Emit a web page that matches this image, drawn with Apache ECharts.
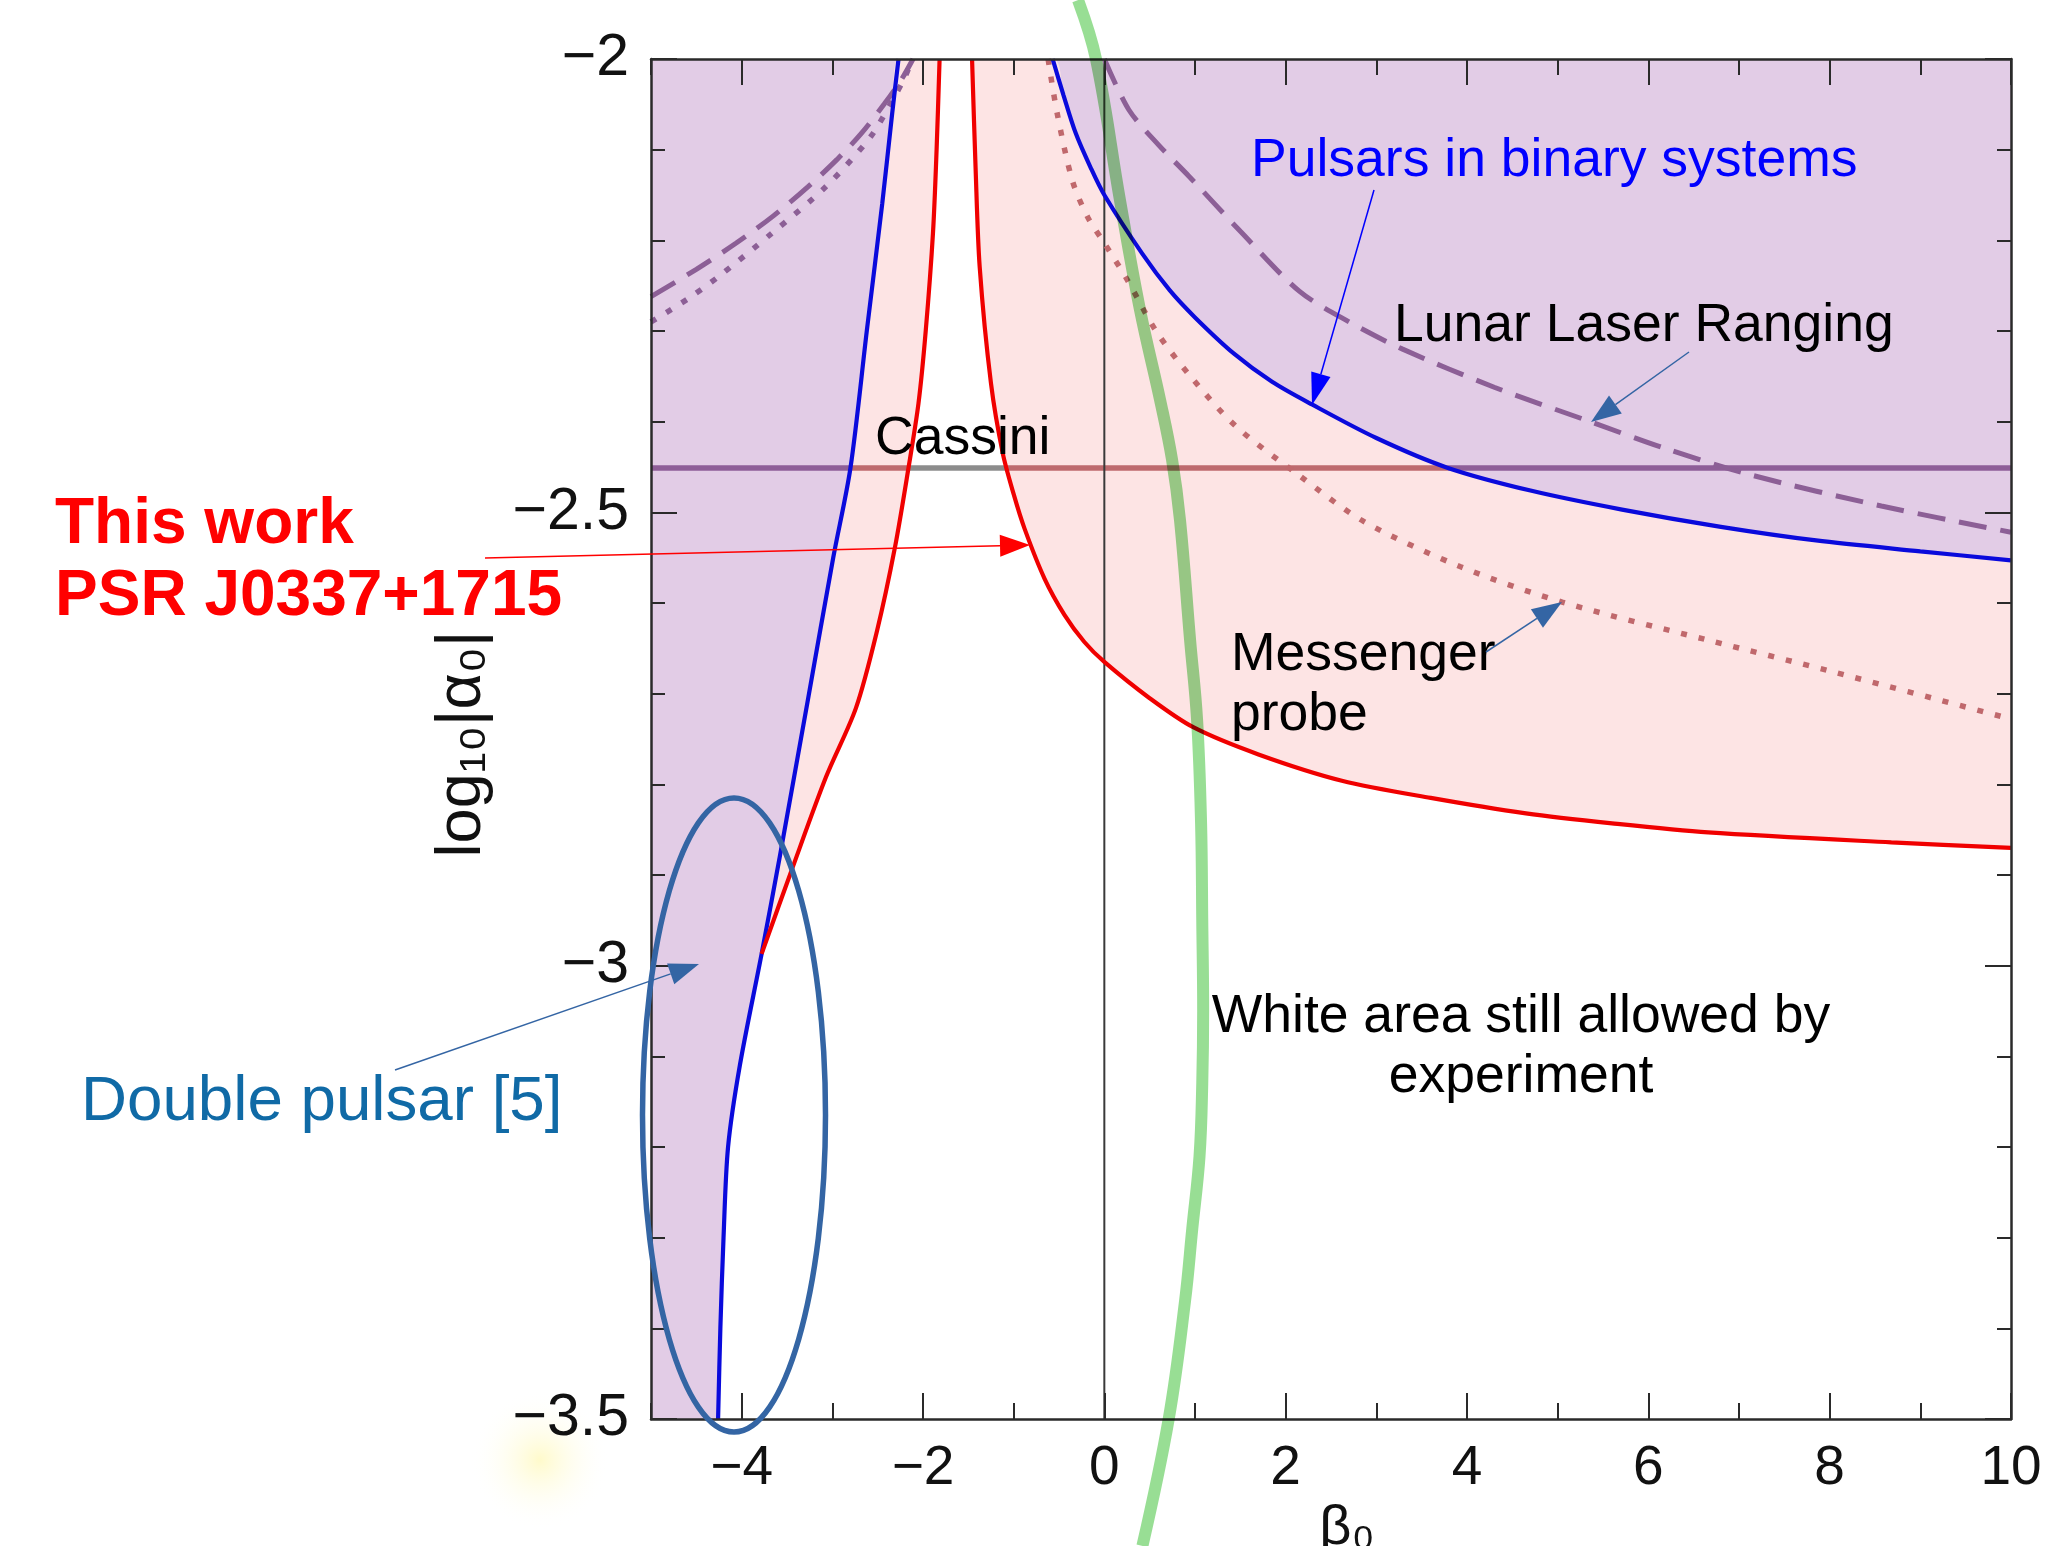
<!DOCTYPE html>
<html>
<head>
<meta charset="utf-8">
<title>alpha0 / beta0 constraints</title>
<script src="https://cdn.jsdelivr.net/npm/echarts@6/dist/echarts.min.js"></script>
<style>
  html, body { margin: 0; padding: 0; background: #fff; }
  #chart { width: 2054px; height: 1546px; }
</style>
</head>
<body>
<div id="chart"></div>
<script>
// β0 (x) against log10|α0| (y), boundaries

const betaLabels = [-4, -2, 0, 2, 4, 6, 8, 10];

// pulsars in binary systems (blue)
const pulsarLeft = [
  [-4.26, -3.50], [-4.235, -3.40], [-4.20, -3.30], [-4.15, -3.20], [-4.02, -3.11],
  [-3.78, -2.987], [-3.58, -2.88], [-3.27, -2.707], [-2.99, -2.55], [-2.80, -2.451],
  [-2.62, -2.30], [-2.45, -2.16], [-2.34, -2.06], [-2.27, -2.00]
];
const pulsarRight = [
  [-0.57, -2.00], [-0.45, -2.04], [-0.315, -2.082], [-0.15, -2.12], [0.0, -2.15],
  [0.42, -2.215], [0.72, -2.255], [1.0, -2.285], [1.43, -2.325], [1.85, -2.356],
  [2.29, -2.381], [3.0, -2.418], [3.79, -2.451], [4.7, -2.476], [5.71, -2.497],
  [6.8, -2.516], [7.85, -2.531], [9.0, -2.543], [10.0, -2.553]
];

// this work, PSR J0337+1715 (red); left branch starts on the blue one
const thisWorkLeft = [
  [-3.78, -2.987], [-3.45, -2.895], [-3.07, -2.792], [-2.74, -2.716], [-2.51, -2.632],
  [-2.31, -2.539], [-2.16, -2.451], [-2.05, -2.38], [-1.97, -2.30], [-1.89, -2.192],
  [-1.85, -2.10], [-1.817, -2.00]
];
const thisWorkRight = [
  [-1.459, -2.00], [-1.42, -2.12], [-1.375, -2.229], [-1.25, -2.358], [-1.12, -2.435],
  [-1.0, -2.48], [-0.88, -2.518], [-0.66, -2.573], [-0.44, -2.613], [-0.22, -2.643],
  [0.0, -2.665], [0.5, -2.705], [0.98, -2.737], [1.7, -2.767], [2.62, -2.796],
  [3.6, -2.815], [4.65, -2.832], [5.6, -2.843], [6.66, -2.853], [8.68, -2.864],
  [10.0, -2.870]
];

// lunar laser ranging (dashed)
const llrLeft = [
  [-5.0, -2.262], [-4.5, -2.232], [-4.06, -2.203], [-3.65, -2.173], [-3.27, -2.141],
  [-2.95, -2.111], [-2.68, -2.082], [-2.43, -2.05], [-2.24, -2.023], [-2.11, -2.00]
];
const llrRight = [
  [0.0, -2.00], [0.27, -2.056], [0.6, -2.095], [0.93, -2.129], [1.5, -2.19],
  [2.15, -2.256], [2.7, -2.29], [3.29, -2.32], [4.3, -2.362], [5.36, -2.40],
  [6.2, -2.43], [7.14, -2.459], [8.57, -2.493], [10.0, -2.522]
];

// messenger probe (dotted)
const messengerLeft = [
  [-5.0, -2.29], [-4.6, -2.265], [-4.255, -2.24], [-3.665, -2.192], [-3.073, -2.141],
  [-2.58, -2.086], [-2.334, -2.045], [-2.20, -2.02], [-2.12, -2.00]
];
const messengerRight = [
  [-0.62, -2.00], [-0.52, -2.06], [-0.35, -2.135], [-0.18, -2.175], [0.0, -2.203],
  [0.25, -2.243], [0.57, -2.30], [0.95, -2.35], [1.45, -2.405], [2.145, -2.459],
  [2.86, -2.51], [3.93, -2.56], [5.05, -2.599], [6.66, -2.641], [8.0, -2.675],
  [10.0, -2.728]
];

// cassini bound, split where it crosses the shaded regions
const cassiniLevel = -2.451;
const cassiniBreaks = [-5, -2.81, -2.16, -1.08, 3.79, 10];
const cassiniColors = ['#8E5E98', '#BE6A6E', '#8C8C8C', '#BE6A6E', '#8E5E98'];

// green overlay curve (runs past the frame)
const greenCurve = [
  [-0.29, -1.935], [-0.092, -2.0], [0.173, -2.156], [0.394, -2.277], [0.615, -2.376],
  [0.747, -2.442], [0.835, -2.509], [0.946, -2.641], [1.023, -2.729], [1.067, -2.843],
  [1.08, -2.95], [1.09, -3.05], [1.08, -3.13], [1.05, -3.21], [0.97, -3.29],
  [0.89, -3.37], [0.71, -3.50], [0.42, -3.64]
];

// region edges built from the curves
const pinkEdge = pulsarLeft.concat(pulsarRight);
const whiteEdge = pulsarLeft.filter(p => p[0] < thisWorkLeft[0][0]).concat(thisWorkLeft, thisWorkRight);

const FONT = '"Liberation Sans", Arial, sans-serif';
const SMOOTH = 0.3;
const minus = v => String(v).replace('-', '\u2212');

function fill(data, color, z) {
  return {
    type: 'line', data, smooth: SMOOTH, showSymbol: false, silent: true, z,
    lineStyle: { width: 0, opacity: 0 },
    areaStyle: { color, opacity: 1, origin: 'start' }
  };
}
function curve(data, color, width, type, z) {
  return {
    type: 'line', data, smooth: SMOOTH, showSymbol: false, silent: true, z: z || 4,
    lineStyle: { color, width, type: type || 'solid', cap: 'butt' }
  };
}

function xAxisOf(position, major) {
  const ax = {
    type: 'value', position, min: -5, max: 10, z: 10,
    axisLine: { show: major, onZero: false, lineStyle: { color: '#2a2a2a', width: 2.5 } },
    axisTick: { show: true, inside: true, length: major ? 26 : 16, lineStyle: { color: '#2a2a2a', width: 2 } },
    axisLabel: { show: false },
    splitLine: { show: false }
  };
  if (major) {
    ax.minInterval = 2; ax.maxInterval = 2; ax.splitNumber = 7;
    ax.axisTick.customValues = betaLabels;
  } else {
    ax.interval = 1;
  }
  if (major && position === 'bottom') {
    ax.axisLabel = {
      show: true, customValues: betaLabels, margin: 22,
      fontSize: 55, fontFamily: FONT, color: '#111',
      formatter: v => (v === -5 ? '' : minus(v))
    };
  }
  return ax;
}

function yAxisOf(position, labels) {
  return {
    type: 'value', position, min: -3.5, max: -2, interval: 0.5, z: 10,
    axisLine: { show: true, onZero: false, lineStyle: { color: '#2a2a2a', width: 2.5 } },
    axisTick: { show: true, inside: true, length: 26, lineStyle: { color: '#2a2a2a', width: 2 } },
    minorTick: { show: true, splitNumber: 5, length: 14, lineStyle: { color: '#2a2a2a', width: 2 } },
    axisLabel: labels ? { show: true, margin: 22, fontSize: 59, fontFamily: FONT, color: '#111', formatter: minus } : { show: false },
    splitLine: { show: false },
    minorSplitLine: { show: false }
  };
}

function arrow(x1, y1, x2, y2, color, len, wid) {
  const a = Math.atan2(y2 - y1, x2 - x1);
  const bx = x2 - len * Math.cos(a), by = y2 - len * Math.sin(a);
  const nx = -Math.sin(a) * wid / 2, ny = Math.cos(a) * wid / 2;
  return [
    { type: 'line', z: 30, shape: { x1, y1, x2: bx, y2: by }, style: { stroke: color, lineWidth: 1.5 } },
    { type: 'polygon', z: 30, shape: { points: [[x2, y2], [bx + nx, by + ny], [bx - nx, by - ny]] }, style: { fill: color } }
  ];
}
function label(text, x, y, size, color, align, weight, lh) {
  return {
    type: 'text', x, y, z: 30,
    style: {
      text, fill: color, font: (weight || 'normal') + ' ' + size + 'px ' + FONT,
      align: align || 'left', textAlign: align || 'left',
      verticalAlign: 'middle', textVerticalAlign: 'middle', lineHeight: lh || Math.round(size * 1.15)
    }
  };
}

const steel = '#3465A4';
const graphics = [
  {
    type: 'circle', z: 0, shape: { cx: 540, cy: 1460, r: 70 },
    style: { fill: { type: 'radial', x: 0.5, y: 0.5, r: 0.5, colorStops: [
      { offset: 0, color: 'rgba(255,250,200,0.95)' }, { offset: 1, color: 'rgba(255,255,255,0)' }] } }
  },
  { type: 'ellipse', z: 30, shape: { cx: 734, cy: 1115, rx: 91.5, ry: 317 }, style: { fill: 'none', stroke: steel, lineWidth: 5.5 } },
  label('Pulsars in binary systems', 1251, 161, 53.5, '#0000FF'),
  label('Lunar Laser Ranging', 1394, 326, 53.5, '#000'),
  label('Cassini', 875, 439, 53.5, '#000'),
  label('Messenger\nprobe', 1231, 685, 53.5, '#000', 'left', 'normal', 60),
  label('White area still allowed by\nexperiment', 1521, 1047, 53.5, '#000', 'center', 'normal', 60),
  label('This work\nPSR J0337+1715', 55, 561, 64, '#FF0000', 'left', 'bold', 72),
  label('Double pulsar [5]', 81, 1102, 63.7, '#106AA6'),
  {
    type: 'text', x: 463, y: 744, rotation: Math.PI / 2, z: 30,
    style: { text: 'log\u2081\u2080|\u03b1\u2080|', fill: '#111', font: '63px ' + FONT,
      align: 'center', textAlign: 'center', verticalAlign: 'middle', textVerticalAlign: 'middle' }
  },
  label('\u03b2\u2080', 1347, 1529, 56, '#111', 'center')
]
  .concat(arrow(1374, 190, 1312, 405, '#0000FF', 32, 20))
  .concat(arrow(1689, 352, 1591, 422, steel, 30, 22))
  .concat(arrow(1486, 652, 1562, 602, steel, 30, 22))
  .concat(arrow(485, 558, 1030, 545, '#FF0000', 30, 22))
  .concat(arrow(395, 1070, 699, 964, steel, 30, 22));

const series = [
  fill(pinkEdge, '#FDE4E4', 1),
  fill(whiteEdge, '#FFFFFF', 2)
];
cassiniColors.forEach((c, i) => {
  series.push(curve([[cassiniBreaks[i], cassiniLevel], [cassiniBreaks[i + 1], cassiniLevel]], c, 5.5, 'solid', 3));
});
series.push(curve([[0, -3.5], [0, -2]], '#3a3a3a', 2, 'solid', 3));
series.push(curve(llrLeft, '#8C5F96', 5, [28, 14]));
series.push(curve(llrRight, '#8C5F96', 5, [28, 14]));
series.push(curve(messengerLeft, '#8C5F96', 5.5, [6, 12]));
series.push(curve(messengerRight, '#C0686C', 5.5, [6, 12]));
series.push(curve(pulsarLeft, '#0A0ADC', 4.2));
series.push(curve(pulsarRight, '#0A0ADC', 4.2));
series.push(curve(thisWorkLeft, '#F00000', 4.2));
series.push(curve(thisWorkRight, '#F00000', 4.2));
series.push({
  type: 'line', data: greenCurve, smooth: 0.4, clip: false, showSymbol: false, silent: true,
  z: 20, blendMode: 'multiply', lineStyle: { color: '#98DE94', width: 12 }
});

const chart = echarts.init(document.getElementById('chart'));
chart.setOption({
  backgroundColor: '#ffffff',
  animation: false,
  grid: {
    left: 651, top: 59, width: 1360, height: 1360,
    containLabel: false, outerBoundsMode: 'none',
    show: true, backgroundColor: '#E2CCE6', borderWidth: 0
  },
  xAxis: [xAxisOf('bottom', true), xAxisOf('bottom', false), xAxisOf('top', true), xAxisOf('top', false)],
  yAxis: [yAxisOf('left', true), yAxisOf('right', false)],
  series,
  graphic: graphics
});
</script>
</body>
</html>
